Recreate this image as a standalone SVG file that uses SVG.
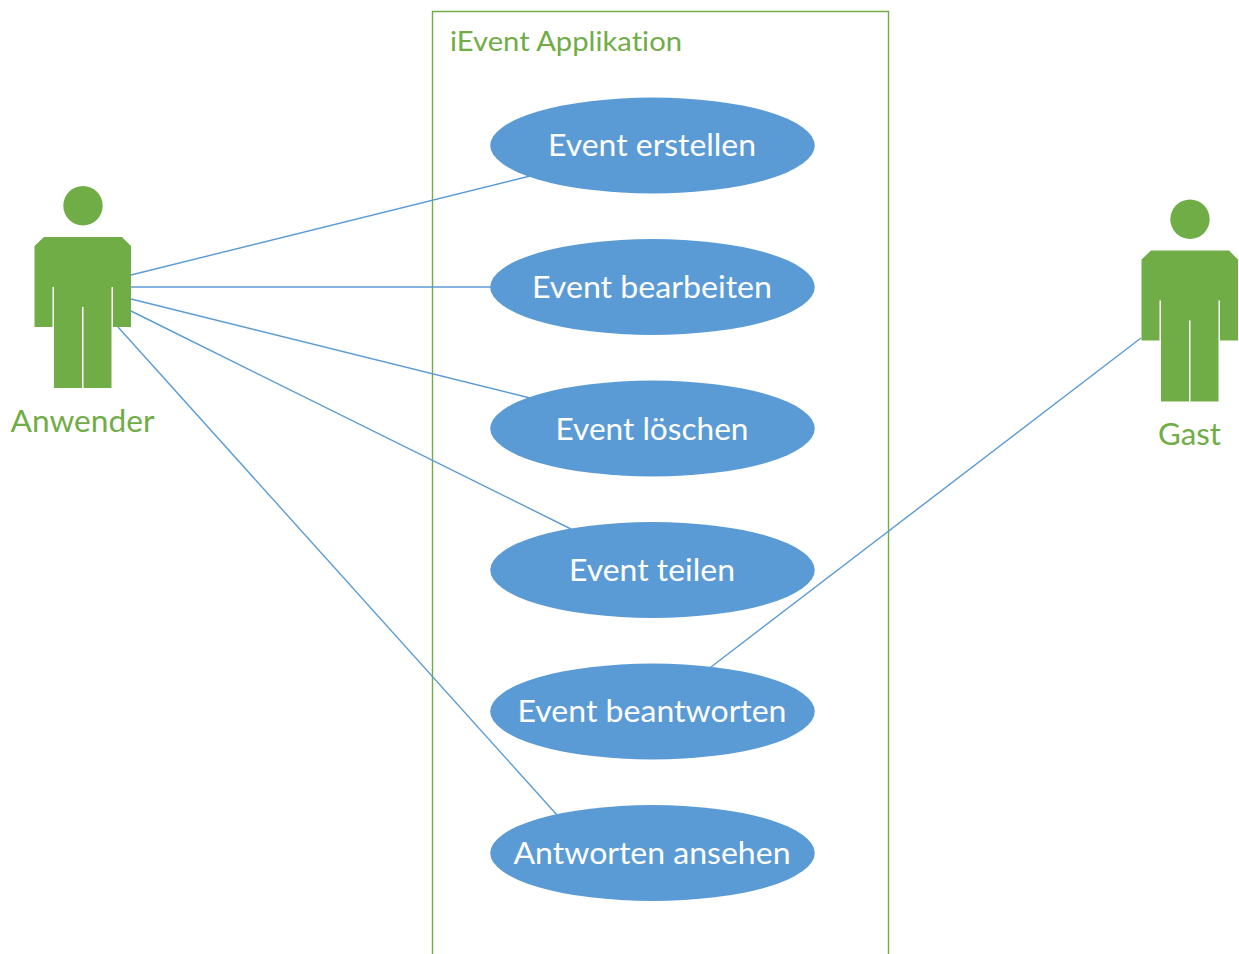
<svg xmlns="http://www.w3.org/2000/svg" width="1239" height="954" viewBox="0 0 1239 954">
<style>
.f{font-family:"Lato","Open Sans","Liberation Sans",sans-serif;font-variant-ligatures:none}
.uc{fill:#5B9BD5}
.ut{fill:#fff;font-size:31.5px;text-anchor:middle}
.lab{fill:#70AD47;font-size:31.5px;text-anchor:middle}
.c{stroke:#5B9BD5;stroke-width:1.4;fill:none}
.p{fill:#70AD47}
</style>
<defs>
<g id="person">
<circle class="p" cx="83" cy="205.800" r="19.700"/>
<path class="p" d="M44 237H122L131 246V327H113V287H111.500V388H83.500V307H82V388H54V287H52.500V327H34.500V246Z"/>
</g>
</defs>
<rect width="1239" height="954" fill="#fff"/>
<g id="boundary">
<path d="M432.500 954V11.500H888.500V954" fill="none" stroke="#70AD47" stroke-width="1.400"/>
<text class="f" x="450" y="51" fill="#70AD47" font-size="27px" textLength="232" lengthAdjust="spacingAndGlyphs">iEvent Applikation</text>
</g>
<g id="connectors">
<line class="c" x1="131" y1="275" x2="530" y2="176"/>
<line class="c" x1="131" y1="287" x2="492" y2="287"/>
<line class="c" x1="131" y1="299" x2="530" y2="398"/>
<line class="c" x1="131" y1="311" x2="571" y2="529"/>
<line class="c" x1="118" y1="327" x2="557" y2="815"/>
<line class="c" x1="1141" y1="338" x2="711" y2="667"/>
</g>
<g id="anwender">
<use href="#person"/>
<text class="f lab" x="82.500" y="432" textLength="144" lengthAdjust="spacingAndGlyphs">Anwender</text>
</g>
<g id="gast">
<use href="#person" x="1107" y="13.500"/>
<text class="f lab" x="1189.500" y="445" textLength="63" lengthAdjust="spacingAndGlyphs">Gast</text>
</g>
<g id="uc1"><ellipse class="uc" cx="652.500" cy="145.500" rx="162.300" ry="48"/><text class="f ut" x="652" y="156" textLength="208" lengthAdjust="spacingAndGlyphs">Event erstellen</text></g>
<g id="uc2"><ellipse class="uc" cx="652.500" cy="287" rx="162.300" ry="48"/><text class="f ut" x="652" y="297.500" textLength="240" lengthAdjust="spacingAndGlyphs">Event bearbeiten</text></g>
<g id="uc3"><ellipse class="uc" cx="652.500" cy="428.500" rx="162.300" ry="48"/><text class="f ut" x="652" y="439.500" textLength="193" lengthAdjust="spacingAndGlyphs">Event löschen</text></g>
<g id="uc4"><ellipse class="uc" cx="652.500" cy="570" rx="162.300" ry="48"/><text class="f ut" x="652" y="581" textLength="166" lengthAdjust="spacingAndGlyphs">Event teilen</text></g>
<g id="uc5"><ellipse class="uc" cx="652.500" cy="711.500" rx="162.300" ry="48"/><text class="f ut" x="652" y="722" textLength="269" lengthAdjust="spacingAndGlyphs">Event beantworten</text></g>
<g id="uc6"><ellipse class="uc" cx="652.500" cy="853" rx="162.300" ry="48"/><text class="f ut" x="652" y="863.500" textLength="277" lengthAdjust="spacingAndGlyphs">Antworten ansehen</text></g>
</svg>
